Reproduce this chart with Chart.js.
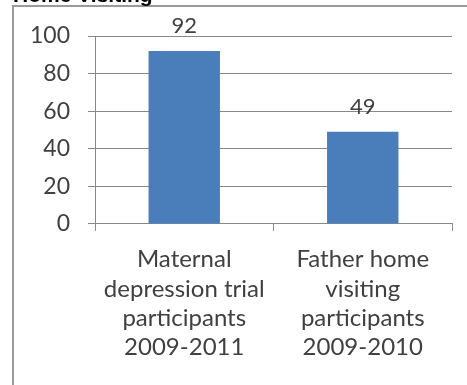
<!DOCTYPE html>
<html>
<head>
<meta charset="utf-8">
<script src="https://cdn.jsdelivr.net/npm/chart.js@4.4.0/dist/chart.umd.min.js"></script>
<style>
  html, body { margin: 0; padding: 0; background: #fff; }
  #wrap { width: 467px; height: 385px; position: relative; }
</style>
</head>
<body>
<div id="wrap"><canvas id="chart"></canvas></div>
<script>
// Participant counts by study
var categories = [
    ['Maternal', 'depression trial', 'participants', '2009-2011'],
    ['Father home', 'visiting', 'participants', '2009-2010']
];
var participants = [92, 49];
var yTicks = [0, 20, 40, 60, 80, 100];

var textFont = 'Lato, "Open Sans", sans-serif';

// Outer frame and the heading above it
var framePlugin = {
    id: 'frame',
    beforeDraw: function (chart) {
        var ctx = chart.ctx;
        ctx.save();
        ctx.strokeStyle = '#9a9a9a';
        ctx.lineWidth = 2;
        ctx.beginPath();
        ctx.moveTo(13, 400);
        ctx.lineTo(13, 6);
        ctx.lineTo(480, 6);
        ctx.stroke();
        ctx.fillStyle = '#000';
        ctx.font = 'bold 21px "Liberation Sans", Arial, sans-serif';
        ctx.textBaseline = 'alphabetic';
        ctx.textAlign = 'left';
        ctx.fillText('Home Visiting', 13, 2);
        ctx.restore();
    }
};

// Value labels above each bar
var valuePlugin = {
    id: 'values',
    afterDatasetsDraw: function (chart) {
        var ctx = chart.ctx;
        var meta = chart.getDatasetMeta(0);
        ctx.save();
        ctx.fillStyle = '#404040';
        ctx.font = '22px ' + textFont;
        ctx.textAlign = 'center';
        ctx.textBaseline = 'bottom';
        meta.data.forEach(function (bar, i) {
            ctx.fillText(String(participants[i]), bar.x, bar.y - 14);
        });
        ctx.restore();
    }
};

var ctx = document.getElementById('chart').getContext('2d');
var chart = new Chart(ctx, {
    type: 'bar',
    data: {
        labels: categories,
        datasets: [{
            data: participants,
            backgroundColor: '#4a7ebb',
            borderWidth: 0,
            categoryPercentage: 1,
            barPercentage: 0.4
        }]
    },
    options: {
        responsive: true,
        maintainAspectRatio: false,
        animation: false,
        devicePixelRatio: 1,
        layout: { padding: { left: 0, right: 15, top: 36, bottom: 9 } },
        plugins: {
            legend: { display: false },
            tooltip: { enabled: false }
        },
        scales: {
            x: {
                grid: {
                    offset: true,
                    drawOnChartArea: false,
                    drawTicks: true,
                    tickLength: 7,
                    color: '#888'
                },
                border: { display: true, color: '#888' },
                ticks: {
                    color: '#404040',
                    font: { family: textFont, size: 24, lineHeight: 1.22 },
                    padding: 14,
                    maxRotation: 0,
                    autoSkip: false
                }
            },
            y: {
                min: 0,
                max: 100,
                afterBuildTicks: function (scale) {
                    scale.ticks = yTicks.map(function (v) { return { value: v }; });
                },
                afterFit: function (scale) { scale.width = 95; },
                grid: {
                    color: '#888',
                    tickLength: 7,
                    drawTicks: true
                },
                border: { display: true, color: '#888' },
                ticks: {
                    color: '#404040',
                    font: { family: textFont, size: 23 },
                    padding: 18
                }
            }
        }
    },
    plugins: [framePlugin, valuePlugin]
});
</script>
</body>
</html>
